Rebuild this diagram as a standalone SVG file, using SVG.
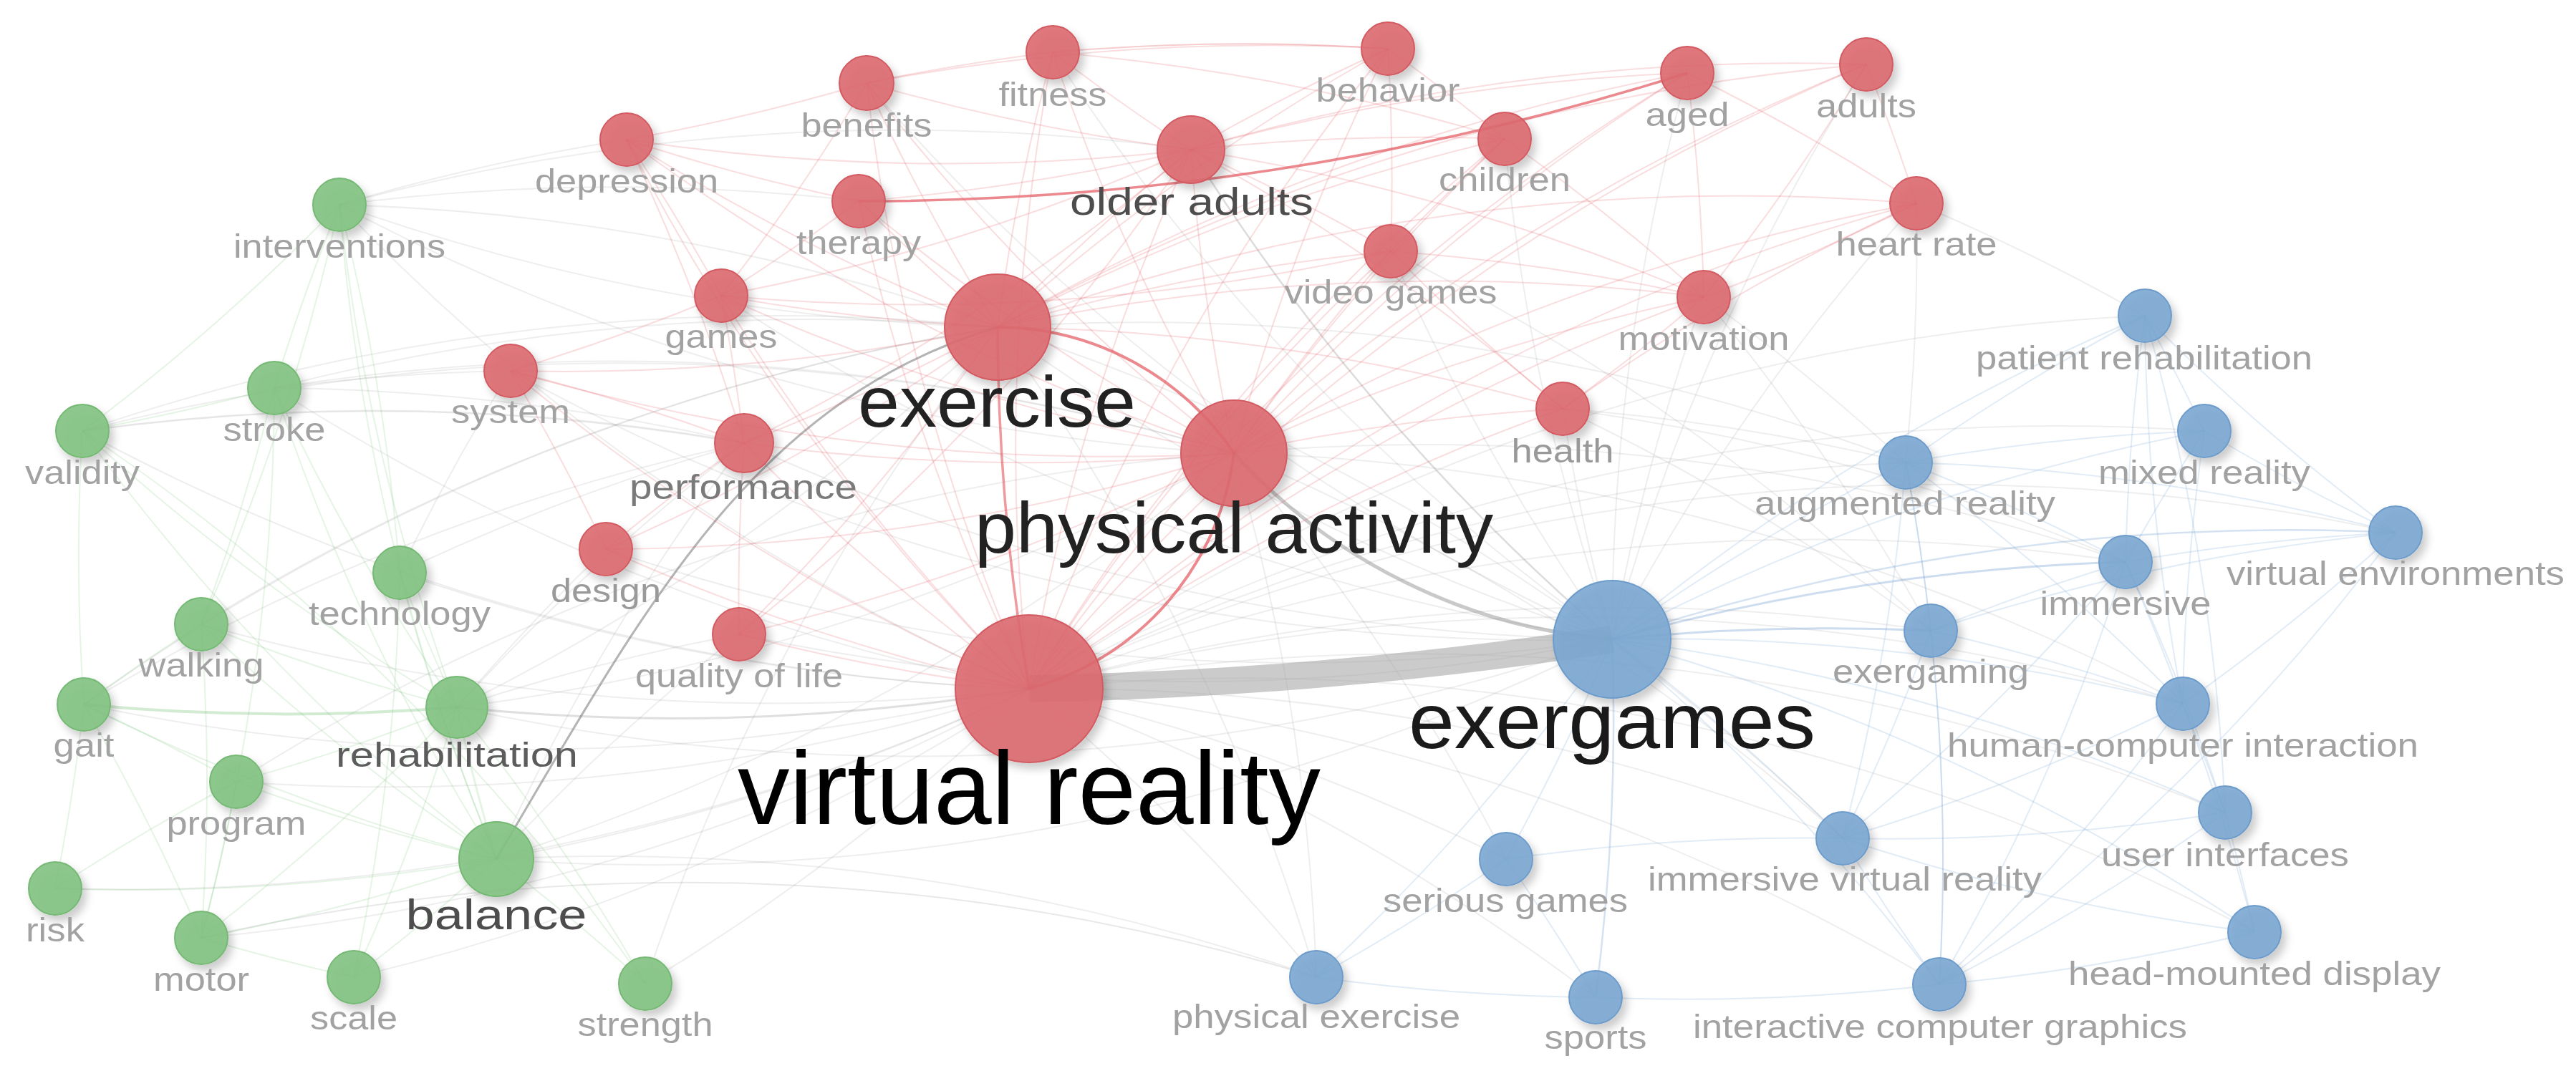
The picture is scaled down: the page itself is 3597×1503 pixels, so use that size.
<svg xmlns="http://www.w3.org/2000/svg" width="3597" height="1503" viewBox="0 0 3597 1503">
<defs>
<filter id="sh" x="-40%" y="-40%" width="190%" height="190%">
<feDropShadow dx="6" dy="8" stdDeviation="6" flood-color="#000" flood-opacity="0.22"/>
</filter>
<style>
.er{fill:none;stroke:#e2575e;stroke-opacity:.2;stroke-width:2}
.ex{fill:none;stroke:#8c8c8c;stroke-opacity:.15;stroke-width:2}
.eg{fill:none;stroke:#6dbb6d;stroke-opacity:.17;stroke-width:2}
.eb{fill:none;stroke:#6f9fd0;stroke-opacity:.2;stroke-width:2}
.band{fill:none;stroke:#a9a9a9;stroke-opacity:.6;stroke-width:38}
.cr{fill:#dc6a70;fill-opacity:.9;stroke:#d35a61;stroke-width:2;filter:url(#sh)}
.cg{fill:#82c282;fill-opacity:.9;stroke:#74b974;stroke-width:2;filter:url(#sh)}
.cb{fill:#7ca7d2;fill-opacity:.9;stroke:#6d9ccb;stroke-width:2;filter:url(#sh)}
text{font-family:"Liberation Sans",Arial,Helvetica,sans-serif;text-anchor:middle}
.l{font-size:46px;fill:#a2a2a2}
</style>
</defs>
<rect width="3597" height="1503" fill="#ffffff"/>
<g id="connectors">
<g id="edges-gray">
<path class="ex" d="M1437 962A3000 3000 0 0 1 638 988" style="stroke-width:3;stroke-opacity:.28"/>
<path class="ex" d="M1437 962A3000 3000 0 0 1 693 1200"/>
<path class="ex" d="M1437 962A3000 3000 0 0 1 117 984"/>
<path class="ex" d="M1437 962A3000 3000 0 0 1 383 542"/>
<path class="ex" d="M1437 962A3000 3000 0 0 1 115 602"/>
<path class="ex" d="M1437 962A3000 3000 0 0 1 474 286"/>
<path class="ex" d="M1437 962A3000 3000 0 0 1 558 800"/>
<path class="ex" d="M1437 962A3000 3000 0 0 1 281 872"/>
<path class="ex" d="M1437 962A3000 3000 0 0 1 330 1092"/>
<path class="ex" d="M1437 962A3000 3000 0 0 1 281 1310"/>
<path class="ex" d="M1437 962A3000 3000 0 0 1 901 1374"/>
<path class="ex" d="M1437 962A3000 3000 0 0 1 494 1365"/>
<path class="ex" d="M1437 962A3000 3000 0 0 1 77 1241"/>
<path class="ex" d="M1437 962A3000 3000 0 0 1 2661 646"/>
<path class="ex" d="M1437 962A3000 3000 0 0 1 2696 881"/>
<path class="ex" d="M1437 962A3000 3000 0 0 1 2103 1200"/>
<path class="ex" d="M1437 962A3000 3000 0 0 1 2573 1171"/>
<path class="ex" d="M1437 962A3000 3000 0 0 1 2228 1393"/>
<path class="ex" d="M1437 962A3000 3000 0 0 1 2708 1375"/>
<path class="ex" d="M1437 962A3000 3000 0 0 1 1838 1365"/>
<path class="ex" d="M1437 962A3000 3000 0 0 1 2995 441"/>
<path class="ex" d="M1437 962A3000 3000 0 0 1 3078 602"/>
<path class="ex" d="M1437 962A3000 3000 0 0 1 2968 785"/>
<path class="ex" d="M1437 962A3000 3000 0 0 1 3345 744"/>
<path class="ex" d="M1437 962A3000 3000 0 0 1 3048 983"/>
<path class="ex" d="M1437 962A3000 3000 0 0 1 3107 1135"/>
<path class="ex" d="M1437 962A3000 3000 0 0 1 3148 1302"/>
<path class="ex" d="M2251 893A3000 3000 0 0 1 1393 457"/>
<path class="ex" d="M2251 893A3000 3000 0 0 1 2182 571"/>
<path class="ex" d="M2251 893A3000 3000 0 0 1 2379 415"/>
<path class="ex" d="M2251 893A3000 3000 0 0 1 1942 351"/>
<path class="ex" d="M2251 893A3000 3000 0 0 1 2101 194"/>
<path class="ex" d="M2251 893A3000 3000 0 0 1 2676 284"/>
<path class="ex" d="M2251 893A3000 3000 0 0 1 1007 413"/>
<path class="ex" d="M2251 893A3000 3000 0 0 1 1039 619"/>
<path class="ex" d="M2251 893A3000 3000 0 0 1 693 1200"/>
<path class="ex" d="M2251 893A3000 3000 0 0 1 638 988"/>
<path class="ex" d="M2251 893A3000 3000 0 0 1 1032 886"/>
<path class="ex" d="M2251 893A3000 3000 0 0 1 846 767"/>
<path class="ex" d="M2251 893A3000 3000 0 0 1 713 518"/>
<path class="ex" d="M2251 893A3000 3000 0 0 1 2356 102"/>
<path class="ex" d="M2251 893A3000 3000 0 0 1 2606 90"/>
<path class="ex" d="M2251 893A3000 3000 0 0 1 1663 209" style="stroke-width:2.5;stroke-opacity:.3"/>
<path class="ex" d="M2251 893A3000 3000 0 0 1 1210 116"/>
<path class="ex" d="M2251 893A3000 3000 0 0 1 1470 73"/>
<path class="ex" d="M1723 633A3000 3000 0 0 1 693 1200"/>
<path class="ex" d="M1723 633A3000 3000 0 0 1 638 988"/>
<path class="ex" d="M1393 457A3000 3000 0 0 1 638 988"/>
<path class="ex" d="M1393 457A3000 3000 0 0 1 474 286"/>
<path class="ex" d="M1723 633A3000 3000 0 0 1 474 286"/>
<path class="ex" d="M474 286A3000 3000 0 0 1 875 195"/>
<path class="ex" d="M474 286A3000 3000 0 0 1 1663 209"/>
<path class="ex" d="M474 286A3000 3000 0 0 1 1199 281"/>
<path class="ex" d="M115 602A3000 3000 0 0 1 1039 619" style="stroke-width:2.5;stroke-opacity:.22"/>
<path class="ex" d="M383 542A3000 3000 0 0 1 713 518"/>
<path class="ex" d="M383 542A3000 3000 0 0 1 1039 619"/>
<path class="ex" d="M638 988A3000 3000 0 0 1 1039 619"/>
<path class="ex" d="M638 988A3000 3000 0 0 1 1032 886"/>
<path class="ex" d="M638 988A3000 3000 0 0 1 846 767"/>
<path class="ex" d="M693 1200A3000 3000 0 0 1 1039 619"/>
<path class="ex" d="M693 1200A3000 3000 0 0 1 1032 886"/>
<path class="ex" d="M558 800A3000 3000 0 0 1 713 518"/>
<path class="ex" d="M558 800A3000 3000 0 0 1 1039 619"/>
<path class="ex" d="M281 872A3000 3000 0 0 1 1393 457"/>
<path class="ex" d="M117 984A3000 3000 0 0 1 1039 619"/>
<path class="ex" d="M281 1310A3000 3000 0 0 1 1838 1365" style="stroke-opacity:.2"/>
<path class="ex" d="M693 1200A3000 3000 0 0 1 1838 1365"/>
<path class="ex" d="M1723 633A3000 3000 0 0 1 1838 1365"/>
<path class="ex" d="M1393 457A3000 3000 0 0 1 1838 1365"/>
<path class="ex" d="M2182 571A3000 3000 0 0 1 2661 646"/>
<path class="ex" d="M2182 571A3000 3000 0 0 1 2968 785"/>
<path class="ex" d="M2379 415A3000 3000 0 0 1 2661 646"/>
<path class="ex" d="M2676 284A3000 3000 0 0 1 2661 646"/>
<path class="ex" d="M2676 284A3000 3000 0 0 1 2995 441"/>
<path class="ex" d="M1942 351A3000 3000 0 0 1 2696 881"/>
<path class="ex" d="M1723 633A3000 3000 0 0 1 2573 1171"/>
<path class="ex" d="M1393 457A3000 3000 0 0 1 2573 1171"/>
<path class="ex" d="M1723 633A3000 3000 0 0 1 2103 1200"/>
<path class="ex" d="M2182 571A3000 3000 0 0 1 2696 881"/>
<path class="ex" d="M2379 415A3000 3000 0 0 1 2696 881"/>
<path class="ex" d="M474 286A3000 3000 0 0 1 1393 457"/>
<path class="ex" d="M383 542A3000 3000 0 0 1 1393 457"/>
<path class="ex" d="M115 602A3000 3000 0 0 1 1393 457"/>
<path class="ex" d="M117 984A3000 3000 0 0 1 1393 457"/>
<path class="ex" d="M115 602A3000 3000 0 0 1 1723 633"/>
<path class="ex" d="M383 542A3000 3000 0 0 1 1723 633"/>
<path class="ex" d="M1723 633A3000 3000 0 0 1 3048 983"/>
<path class="ex" d="M1723 633A3000 3000 0 0 1 2968 785"/>
<path class="ex" d="M1393 457A3000 3000 0 0 1 2661 646"/>
<path class="ex" d="M901 1374A3000 3000 0 0 1 1393 457"/>
<path class="ex" d="M330 1092A3000 3000 0 0 1 1723 633"/>
<path class="ex" d="M693 1200C900 850 1050 560 1393 457" style="stroke:#777;stroke-width:3;stroke-opacity:.55"/>
<path class="ex" d="M2251 893A800 800 0 0 1 1723 633" style="stroke:#888;stroke-width:5;stroke-opacity:.45"/>
<path class="band" d="M2251 893A6000 6000 0 0 1 1437 962"/>
</g>
<g id="edges-red">
<path class="er" d="M1437 962A3000 3000 0 0 1 1663 209"/>
<path class="er" d="M1437 962A3000 3000 0 0 1 1210 116"/>
<path class="er" d="M1437 962A3000 3000 0 0 1 1470 73"/>
<path class="er" d="M1437 962A3000 3000 0 0 1 1938 68"/>
<path class="er" d="M1437 962A3000 3000 0 0 1 1199 281"/>
<path class="er" d="M1437 962A3000 3000 0 0 1 1942 351"/>
<path class="er" d="M1437 962A3000 3000 0 0 1 2101 194"/>
<path class="er" d="M1437 962A3000 3000 0 0 1 2356 102"/>
<path class="er" d="M1437 962A3000 3000 0 0 1 2606 90"/>
<path class="er" d="M1437 962A3000 3000 0 0 1 2676 284"/>
<path class="er" d="M1437 962A3000 3000 0 0 1 2379 415"/>
<path class="er" d="M1437 962A3000 3000 0 0 1 2182 571"/>
<path class="er" d="M1437 962A3000 3000 0 0 1 1007 413"/>
<path class="er" d="M1437 962A3000 3000 0 0 1 713 518"/>
<path class="er" d="M1437 962A3000 3000 0 0 1 1039 619"/>
<path class="er" d="M1437 962A3000 3000 0 0 1 846 767"/>
<path class="er" d="M1437 962A3000 3000 0 0 1 1032 886"/>
<path class="er" d="M1437 962A3000 3000 0 0 1 875 195"/>
<path class="er" d="M1393 457A3000 3000 0 0 1 1663 209"/>
<path class="er" d="M1393 457A3000 3000 0 0 1 1210 116"/>
<path class="er" d="M1393 457A3000 3000 0 0 1 1470 73"/>
<path class="er" d="M1393 457A3000 3000 0 0 1 1938 68"/>
<path class="er" d="M1393 457A3000 3000 0 0 1 1199 281"/>
<path class="er" d="M1393 457A3000 3000 0 0 1 1942 351"/>
<path class="er" d="M1393 457A3000 3000 0 0 1 2101 194"/>
<path class="er" d="M1393 457A3000 3000 0 0 1 2356 102"/>
<path class="er" d="M1393 457A3000 3000 0 0 1 2606 90"/>
<path class="er" d="M1393 457A3000 3000 0 0 1 2676 284"/>
<path class="er" d="M1393 457A3000 3000 0 0 1 2379 415"/>
<path class="er" d="M1393 457A3000 3000 0 0 1 2182 571"/>
<path class="er" d="M1393 457A3000 3000 0 0 1 1007 413"/>
<path class="er" d="M1393 457A3000 3000 0 0 1 713 518"/>
<path class="er" d="M1393 457A3000 3000 0 0 1 1039 619"/>
<path class="er" d="M1393 457A3000 3000 0 0 1 846 767"/>
<path class="er" d="M1393 457A3000 3000 0 0 1 1032 886"/>
<path class="er" d="M1393 457A3000 3000 0 0 1 875 195"/>
<path class="er" d="M1723 633A3000 3000 0 0 1 1663 209"/>
<path class="er" d="M1723 633A3000 3000 0 0 1 1210 116"/>
<path class="er" d="M1723 633A3000 3000 0 0 1 1470 73"/>
<path class="er" d="M1723 633A3000 3000 0 0 1 1938 68"/>
<path class="er" d="M1723 633A3000 3000 0 0 1 1199 281"/>
<path class="er" d="M1723 633A3000 3000 0 0 1 1942 351"/>
<path class="er" d="M1723 633A3000 3000 0 0 1 2101 194"/>
<path class="er" d="M1723 633A3000 3000 0 0 1 2356 102"/>
<path class="er" d="M1723 633A3000 3000 0 0 1 2606 90"/>
<path class="er" d="M1723 633A3000 3000 0 0 1 2676 284"/>
<path class="er" d="M1723 633A3000 3000 0 0 1 2379 415"/>
<path class="er" d="M1723 633A3000 3000 0 0 1 2182 571"/>
<path class="er" d="M1723 633A3000 3000 0 0 1 1007 413"/>
<path class="er" d="M1723 633A3000 3000 0 0 1 713 518"/>
<path class="er" d="M1723 633A3000 3000 0 0 1 1039 619"/>
<path class="er" d="M1723 633A3000 3000 0 0 1 875 195"/>
<path class="er" d="M1723 633A3000 3000 0 0 1 1032 886"/>
<path class="er" d="M1723 633A3000 3000 0 0 1 846 767"/>
<path class="er" d="M1663 209A3000 3000 0 0 1 1210 116"/>
<path class="er" d="M1663 209A3000 3000 0 0 1 1470 73"/>
<path class="er" d="M1663 209A3000 3000 0 0 1 1199 281"/>
<path class="er" d="M1663 209A3000 3000 0 0 1 2101 194"/>
<path class="er" d="M1663 209A3000 3000 0 0 1 1942 351"/>
<path class="er" d="M1663 209A3000 3000 0 0 1 2356 102"/>
<path class="er" d="M1663 209A3000 3000 0 0 1 875 195"/>
<path class="er" d="M1663 209A3000 3000 0 0 1 1007 413"/>
<path class="er" d="M1663 209A3000 3000 0 0 1 1039 619"/>
<path class="er" d="M1663 209A3000 3000 0 0 1 1032 886"/>
<path class="er" d="M1663 209A3000 3000 0 0 1 2182 571"/>
<path class="er" d="M1663 209A3000 3000 0 0 1 2379 415"/>
<path class="er" d="M1663 209A3000 3000 0 0 1 1938 68"/>
<path class="er" d="M1663 209A3000 3000 0 0 1 2606 90"/>
<path class="er" d="M1210 116A3000 3000 0 0 1 1470 73"/>
<path class="er" d="M1210 116A3000 3000 0 0 1 1938 68"/>
<path class="er" d="M1210 116A3000 3000 0 0 1 875 195"/>
<path class="er" d="M1470 73A3000 3000 0 0 1 1938 68" style="stroke-opacity:.3"/>
<path class="er" d="M1470 73A3000 3000 0 0 1 2101 194"/>
<path class="er" d="M1199 281A3000 3000 0 0 1 875 195"/>
<path class="er" d="M1007 413A3000 3000 0 0 1 713 518"/>
<path class="er" d="M1007 413A3000 3000 0 0 1 1039 619"/>
<path class="er" d="M713 518A3000 3000 0 0 1 1039 619"/>
<path class="er" d="M713 518A3000 3000 0 0 1 846 767"/>
<path class="er" d="M846 767A3000 3000 0 0 1 1039 619"/>
<path class="er" d="M1032 886A3000 3000 0 0 1 1039 619"/>
<path class="er" d="M875 195A3000 3000 0 0 1 1007 413"/>
<path class="er" d="M875 195A3000 3000 0 0 1 1039 619"/>
<path class="er" d="M1942 351A3000 3000 0 0 1 2101 194"/>
<path class="er" d="M1942 351A3000 3000 0 0 1 2379 415"/>
<path class="er" d="M1942 351A3000 3000 0 0 1 1007 413"/>
<path class="er" d="M2101 194A3000 3000 0 0 1 2379 415"/>
<path class="er" d="M2356 102A3000 3000 0 0 1 2676 284"/>
<path class="er" d="M2606 90A3000 3000 0 0 1 2676 284"/>
<path class="er" d="M2676 284A3000 3000 0 0 1 2379 415"/>
<path class="er" d="M2379 415A3000 3000 0 0 1 2182 571"/>
<path class="er" d="M2182 571A3000 3000 0 0 1 1942 351"/>
<path class="er" d="M1938 68A3000 3000 0 0 1 2101 194"/>
<path class="er" d="M1938 68A3000 3000 0 0 1 1942 351"/>
<path class="er" d="M2606 90A3000 3000 0 0 1 2379 415"/>
<path class="er" d="M2356 102A3000 3000 0 0 1 2379 415"/>
<path class="er" d="M2182 571A3000 3000 0 0 1 2676 284"/>
<path class="er" d="M1199 281A3000 3000 0 0 1 1007 413"/>
<path class="er" d="M1210 116A3000 3000 0 0 1 1007 413"/>
<path class="er" d="M1437 962A3000 3000 0 0 1 1393 457" style="stroke-width:3.5;stroke-opacity:.6"/>
<path class="er" d="M1393 457A400 400 0 0 1 1723 633" style="stroke-width:4;stroke-opacity:.7"/>
<path class="er" d="M1723 633A390 390 0 0 1 1437 962" style="stroke-width:4;stroke-opacity:.7"/>
<path class="er" d="M2356 102A3800 3800 0 0 1 1199 281" style="stroke-width:3.5;stroke-opacity:.7"/>
</g>
<g id="edges-green">
<path class="eg" d="M693 1200A3000 3000 0 0 1 638 988" style="stroke-width:3"/>
<path class="eg" d="M693 1200A3000 3000 0 0 1 117 984"/>
<path class="eg" d="M693 1200A3000 3000 0 0 1 281 872"/>
<path class="eg" d="M693 1200A3000 3000 0 0 1 330 1092"/>
<path class="eg" d="M693 1200A3000 3000 0 0 1 77 1241"/>
<path class="eg" d="M693 1200A3000 3000 0 0 1 281 1310"/>
<path class="eg" d="M693 1200A3000 3000 0 0 1 494 1365"/>
<path class="eg" d="M693 1200A3000 3000 0 0 1 901 1374"/>
<path class="eg" d="M693 1200A3000 3000 0 0 1 383 542"/>
<path class="eg" d="M693 1200A3000 3000 0 0 1 558 800"/>
<path class="eg" d="M693 1200A3000 3000 0 0 1 115 602"/>
<path class="eg" d="M693 1200A3000 3000 0 0 1 474 286"/>
<path class="eg" d="M638 988A3000 3000 0 0 1 117 984" style="stroke-width:4;stroke-opacity:.3"/>
<path class="eg" d="M638 988A3000 3000 0 0 1 383 542"/>
<path class="eg" d="M638 988A3000 3000 0 0 1 281 872"/>
<path class="eg" d="M638 988A3000 3000 0 0 1 558 800"/>
<path class="eg" d="M638 988A3000 3000 0 0 1 474 286"/>
<path class="eg" d="M638 988A3000 3000 0 0 1 330 1092"/>
<path class="eg" d="M638 988A3000 3000 0 0 1 281 1310"/>
<path class="eg" d="M638 988A3000 3000 0 0 1 494 1365"/>
<path class="eg" d="M638 988A3000 3000 0 0 1 901 1374"/>
<path class="eg" d="M638 988A3000 3000 0 0 1 115 602"/>
<path class="eg" d="M117 984A3000 3000 0 0 1 281 872"/>
<path class="eg" d="M117 984A3000 3000 0 0 1 115 602"/>
<path class="eg" d="M117 984A3000 3000 0 0 1 330 1092"/>
<path class="eg" d="M117 984A3000 3000 0 0 1 281 1310"/>
<path class="eg" d="M117 984A3000 3000 0 0 1 77 1241"/>
<path class="eg" d="M383 542A3000 3000 0 0 1 281 872"/>
<path class="eg" d="M383 542A3000 3000 0 0 1 474 286"/>
<path class="eg" d="M383 542A3000 3000 0 0 1 115 602"/>
<path class="eg" d="M383 542A3000 3000 0 0 1 281 1310"/>
<path class="eg" d="M474 286A3000 3000 0 0 1 558 800"/>
<path class="eg" d="M474 286A3000 3000 0 0 1 281 872"/>
<path class="eg" d="M558 800A3000 3000 0 0 1 494 1365"/>
<path class="eg" d="M330 1092A3000 3000 0 0 1 281 1310"/>
<path class="eg" d="M281 872A3000 3000 0 0 1 281 1310"/>
<path class="eg" d="M115 602A3000 3000 0 0 1 901 1374"/>
<path class="eg" d="M494 1365A3000 3000 0 0 1 281 1310"/>
<path class="eg" d="M77 1241A3000 3000 0 0 1 330 1092"/>
<path class="eg" d="M474 286A3000 3000 0 0 1 115 602"/>
</g>
<g id="edges-blue">
<path class="eb" d="M2251 893A3000 3000 0 0 1 2661 646"/>
<path class="eb" d="M2251 893A3000 3000 0 0 1 2696 881" style="stroke-width:3;stroke-opacity:.35"/>
<path class="eb" d="M2251 893A3000 3000 0 0 1 2103 1200"/>
<path class="eb" d="M2251 893A3000 3000 0 0 1 2573 1171"/>
<path class="eb" d="M2251 893A3000 3000 0 0 1 2228 1393" style="stroke-width:2.5;stroke-opacity:.3"/>
<path class="eb" d="M2251 893A3000 3000 0 0 1 2708 1375"/>
<path class="eb" d="M2251 893A3000 3000 0 0 1 1838 1365"/>
<path class="eb" d="M2251 893A3000 3000 0 0 1 2995 441"/>
<path class="eb" d="M2251 893A3000 3000 0 0 1 3078 602"/>
<path class="eb" d="M2251 893A3000 3000 0 0 1 2968 785" style="stroke-width:3;stroke-opacity:.35"/>
<path class="eb" d="M2251 893A3000 3000 0 0 1 3345 744" style="stroke-width:2.5;stroke-opacity:.3"/>
<path class="eb" d="M2251 893A3000 3000 0 0 1 3048 983"/>
<path class="eb" d="M2251 893A3000 3000 0 0 1 3107 1135"/>
<path class="eb" d="M2251 893A3000 3000 0 0 1 3148 1302"/>
<path class="eb" d="M2661 646A3000 3000 0 0 1 3078 602"/>
<path class="eb" d="M2661 646A3000 3000 0 0 1 2968 785"/>
<path class="eb" d="M2661 646A3000 3000 0 0 1 2995 441"/>
<path class="eb" d="M2661 646A3000 3000 0 0 1 3345 744"/>
<path class="eb" d="M2661 646A3000 3000 0 0 1 3048 983"/>
<path class="eb" d="M2661 646A3000 3000 0 0 1 2696 881"/>
<path class="eb" d="M2661 646A3000 3000 0 0 1 2708 1375"/>
<path class="eb" d="M2661 646A3000 3000 0 0 1 2573 1171"/>
<path class="eb" d="M2696 881A3000 3000 0 0 1 2968 785"/>
<path class="eb" d="M2696 881A3000 3000 0 0 1 3345 744"/>
<path class="eb" d="M2696 881A3000 3000 0 0 1 3048 983"/>
<path class="eb" d="M2696 881A3000 3000 0 0 1 2573 1171"/>
<path class="eb" d="M2696 881A3000 3000 0 0 1 2708 1375"/>
<path class="eb" d="M2968 785A3000 3000 0 0 1 3345 744"/>
<path class="eb" d="M2968 785A3000 3000 0 0 1 3048 983"/>
<path class="eb" d="M2968 785A3000 3000 0 0 1 2995 441"/>
<path class="eb" d="M2968 785A3000 3000 0 0 1 3078 602"/>
<path class="eb" d="M2968 785A3000 3000 0 0 1 3107 1135"/>
<path class="eb" d="M2968 785A3000 3000 0 0 1 2708 1375"/>
<path class="eb" d="M2968 785A3000 3000 0 0 1 2573 1171"/>
<path class="eb" d="M3345 744A3000 3000 0 0 1 3048 983"/>
<path class="eb" d="M3345 744A3000 3000 0 0 1 2995 441"/>
<path class="eb" d="M3345 744A3000 3000 0 0 1 3078 602"/>
<path class="eb" d="M3345 744A3000 3000 0 0 1 2708 1375"/>
<path class="eb" d="M3048 983A3000 3000 0 0 1 3107 1135"/>
<path class="eb" d="M3048 983A3000 3000 0 0 1 2708 1375"/>
<path class="eb" d="M3048 983A3000 3000 0 0 1 2995 441"/>
<path class="eb" d="M3048 983A3000 3000 0 0 1 3078 602"/>
<path class="eb" d="M3048 983A3000 3000 0 0 1 3148 1302"/>
<path class="eb" d="M3048 983A3000 3000 0 0 1 2573 1171"/>
<path class="eb" d="M3107 1135A3000 3000 0 0 1 3148 1302"/>
<path class="eb" d="M3107 1135A3000 3000 0 0 1 2708 1375"/>
<path class="eb" d="M3107 1135A3000 3000 0 0 1 2573 1171"/>
<path class="eb" d="M3148 1302A3000 3000 0 0 1 2573 1171"/>
<path class="eb" d="M3148 1302A3000 3000 0 0 1 2708 1375"/>
<path class="eb" d="M2708 1375A3000 3000 0 0 1 2573 1171"/>
<path class="eb" d="M2708 1375A3000 3000 0 0 1 2228 1393"/>
<path class="eb" d="M2103 1200A3000 3000 0 0 1 2228 1393"/>
<path class="eb" d="M2103 1200A3000 3000 0 0 1 2573 1171"/>
<path class="eb" d="M2103 1200A3000 3000 0 0 1 1838 1365"/>
<path class="eb" d="M2228 1393A3000 3000 0 0 1 1838 1365"/>
<path class="eb" d="M2995 441A3000 3000 0 0 1 3078 602"/>
<path class="eb" d="M2995 441A3000 3000 0 0 1 3107 1135"/>
</g>
</g>
<g id="nodes">
<g id="n-depression"><circle class="cr" cx="875" cy="195" r="37"/><text class="l" x="875" y="269" textLength="256" lengthAdjust="spacingAndGlyphs">depression</text></g>
<g id="n-benefits"><circle class="cr" cx="1210" cy="116" r="38"/><text class="l" x="1210" y="191" textLength="183" lengthAdjust="spacingAndGlyphs">benefits</text></g>
<g id="n-fitness"><circle class="cr" cx="1470" cy="73" r="37"/><text class="l" x="1470" y="148" textLength="151" lengthAdjust="spacingAndGlyphs">fitness</text></g>
<g id="n-behavior"><circle class="cr" cx="1938" cy="68" r="37"/><text class="l" x="1938" y="142" textLength="201" lengthAdjust="spacingAndGlyphs">behavior</text></g>
<g id="n-therapy"><circle class="cr" cx="1199" cy="281" r="37"/><text class="l" x="1199" y="355" textLength="174" lengthAdjust="spacingAndGlyphs">therapy</text></g>
<g id="n-video-games"><circle class="cr" cx="1942" cy="351" r="37"/><text class="l" x="1942" y="424" textLength="297" lengthAdjust="spacingAndGlyphs">video games</text></g>
<g id="n-children"><circle class="cr" cx="2101" cy="194" r="37"/><text class="l" x="2101" y="267" textLength="184" lengthAdjust="spacingAndGlyphs">children</text></g>
<g id="n-aged"><circle class="cr" cx="2356" cy="102" r="37"/><text class="l" x="2356" y="176" textLength="117" lengthAdjust="spacingAndGlyphs">aged</text></g>
<g id="n-adults"><circle class="cr" cx="2606" cy="90" r="37"/><text class="l" x="2606" y="164" textLength="140" lengthAdjust="spacingAndGlyphs">adults</text></g>
<g id="n-heart-rate"><circle class="cr" cx="2676" cy="284" r="37"/><text class="l" x="2676" y="357" textLength="225" lengthAdjust="spacingAndGlyphs">heart rate</text></g>
<g id="n-motivation"><circle class="cr" cx="2379" cy="415" r="37"/><text class="l" x="2379" y="489" textLength="239" lengthAdjust="spacingAndGlyphs">motivation</text></g>
<g id="n-health"><circle class="cr" cx="2182" cy="571" r="37"/><text class="l" x="2182" y="646" textLength="143" lengthAdjust="spacingAndGlyphs" style="fill:#999">health</text></g>
<g id="n-games"><circle class="cr" cx="1007" cy="413" r="37"/><text class="l" x="1007" y="486" textLength="157" lengthAdjust="spacingAndGlyphs">games</text></g>
<g id="n-system"><circle class="cr" cx="713" cy="518" r="37"/><text class="l" x="713" y="591" textLength="166" lengthAdjust="spacingAndGlyphs">system</text></g>
<g id="n-design"><circle class="cr" cx="846" cy="767" r="37"/><text class="l" x="846" y="841" textLength="154" lengthAdjust="spacingAndGlyphs" style="fill:#9a9a9a">design</text></g>
<g id="n-quality-of-life"><circle class="cr" cx="1032" cy="886" r="37"/><text class="l" x="1032" y="960" textLength="290" lengthAdjust="spacingAndGlyphs">quality of life</text></g>
<g id="n-performance"><circle class="cr" cx="1039" cy="619" r="41"/><text x="1038" y="697" textLength="318" lengthAdjust="spacingAndGlyphs" style="font-size:48px;fill:#7a7a7a">performance</text></g>
<g id="n-older-adults"><circle class="cr" cx="1663" cy="209" r="47"/><text x="1664" y="300" textLength="340" lengthAdjust="spacingAndGlyphs" style="font-size:53px;fill:#4d4d4d">older adults</text></g>
<g id="n-exercise"><circle class="cr" cx="1393" cy="457" r="74"/><text x="1392" y="596" textLength="388" lengthAdjust="spacingAndGlyphs" style="font-size:100px;fill:#222">exercise</text></g>
<g id="n-physical-activity"><circle class="cr" cx="1723" cy="633" r="74"/><text x="1723" y="772" textLength="724" lengthAdjust="spacingAndGlyphs" style="font-size:100px;fill:#222">physical activity</text></g>
<g id="n-virtual-reality"><circle class="cr" cx="1437" cy="962" r="103"/><text x="1437" y="1151" textLength="814" lengthAdjust="spacingAndGlyphs" style="font-size:145px;fill:#000">virtual reality</text></g>
<g id="n-interventions"><circle class="cg" cx="474" cy="286" r="37"/><text class="l" x="474" y="360" textLength="296" lengthAdjust="spacingAndGlyphs">interventions</text></g>
<g id="n-validity"><circle class="cg" cx="115" cy="602" r="37"/><text class="l" x="115" y="676" textLength="160" lengthAdjust="spacingAndGlyphs">validity</text></g>
<g id="n-stroke"><circle class="cg" cx="383" cy="542" r="37"/><text class="l" x="383" y="616" textLength="143" lengthAdjust="spacingAndGlyphs">stroke</text></g>
<g id="n-technology"><circle class="cg" cx="558" cy="800" r="37"/><text class="l" x="558" y="873" textLength="254" lengthAdjust="spacingAndGlyphs">technology</text></g>
<g id="n-walking"><circle class="cg" cx="281" cy="872" r="37"/><text class="l" x="281" y="945" textLength="175" lengthAdjust="spacingAndGlyphs">walking</text></g>
<g id="n-gait"><circle class="cg" cx="117" cy="984" r="37"/><text class="l" x="117" y="1057" textLength="85" lengthAdjust="spacingAndGlyphs">gait</text></g>
<g id="n-program"><circle class="cg" cx="330" cy="1092" r="37"/><text class="l" x="330" y="1166" textLength="195" lengthAdjust="spacingAndGlyphs">program</text></g>
<g id="n-risk"><circle class="cg" cx="77" cy="1241" r="37"/><text class="l" x="77" y="1315" textLength="82" lengthAdjust="spacingAndGlyphs">risk</text></g>
<g id="n-motor"><circle class="cg" cx="281" cy="1310" r="37"/><text class="l" x="281" y="1384" textLength="134" lengthAdjust="spacingAndGlyphs">motor</text></g>
<g id="n-scale"><circle class="cg" cx="494" cy="1365" r="37"/><text class="l" x="494" y="1438" textLength="122" lengthAdjust="spacingAndGlyphs">scale</text></g>
<g id="n-strength"><circle class="cg" cx="901" cy="1374" r="37"/><text class="l" x="901" y="1447" textLength="189" lengthAdjust="spacingAndGlyphs">strength</text></g>
<g id="n-rehabilitation"><circle class="cg" cx="638" cy="988" r="43"/><text x="638" y="1071" textLength="338" lengthAdjust="spacingAndGlyphs" style="font-size:48px;fill:#5c5c5c">rehabilitation</text></g>
<g id="n-balance"><circle class="cg" cx="693" cy="1200" r="52"/><text x="693" y="1298" textLength="253" lengthAdjust="spacingAndGlyphs" style="font-size:60px;fill:#4d4d4d">balance</text></g>
<g id="n-augmented-reality"><circle class="cb" cx="2661" cy="646" r="37"/><text class="l" x="2660" y="719" textLength="420" lengthAdjust="spacingAndGlyphs">augmented reality</text></g>
<g id="n-exergaming"><circle class="cb" cx="2696" cy="881" r="37"/><text class="l" x="2696" y="954" textLength="274" lengthAdjust="spacingAndGlyphs">exergaming</text></g>
<g id="n-serious-games"><circle class="cb" cx="2103" cy="1200" r="37"/><text class="l" x="2102" y="1274" textLength="342" lengthAdjust="spacingAndGlyphs">serious games</text></g>
<g id="n-immersive-virtual-reality"><circle class="cb" cx="2573" cy="1171" r="37"/><text class="l" x="2576" y="1244" textLength="550" lengthAdjust="spacingAndGlyphs">immersive virtual reality</text></g>
<g id="n-sports"><circle class="cb" cx="2228" cy="1393" r="37"/><text class="l" x="2228" y="1465" textLength="143" lengthAdjust="spacingAndGlyphs">sports</text></g>
<g id="n-interactive-computer-graphics"><circle class="cb" cx="2708" cy="1375" r="37"/><text class="l" x="2709" y="1450" textLength="690" lengthAdjust="spacingAndGlyphs">interactive computer graphics</text></g>
<g id="n-physical-exercise"><circle class="cb" cx="1838" cy="1365" r="37"/><text class="l" x="1838" y="1436" textLength="402" lengthAdjust="spacingAndGlyphs">physical exercise</text></g>
<g id="n-patient-rehabilitation"><circle class="cb" cx="2995" cy="441" r="37"/><text class="l" x="2994" y="516" textLength="470" lengthAdjust="spacingAndGlyphs">patient rehabilitation</text></g>
<g id="n-mixed-reality"><circle class="cb" cx="3078" cy="602" r="37"/><text class="l" x="3078" y="676" textLength="296" lengthAdjust="spacingAndGlyphs">mixed reality</text></g>
<g id="n-immersive"><circle class="cb" cx="2968" cy="785" r="37"/><text class="l" x="2968" y="859" textLength="239" lengthAdjust="spacingAndGlyphs">immersive</text></g>
<g id="n-virtual-environments"><circle class="cb" cx="3345" cy="744" r="37"/><text class="l" x="3345" y="817" textLength="472" lengthAdjust="spacingAndGlyphs">virtual environments</text></g>
<g id="n-human-computer-interaction"><circle class="cb" cx="3048" cy="983" r="37"/><text class="l" x="3048" y="1057" textLength="658" lengthAdjust="spacingAndGlyphs">human-computer interaction</text></g>
<g id="n-user-interfaces"><circle class="cb" cx="3107" cy="1135" r="37"/><text class="l" x="3107" y="1210" textLength="346" lengthAdjust="spacingAndGlyphs">user interfaces</text></g>
<g id="n-head-mounted-display"><circle class="cb" cx="3148" cy="1302" r="37"/><text class="l" x="3148" y="1376" textLength="520" lengthAdjust="spacingAndGlyphs">head-mounted display</text></g>
<g id="n-exergames"><circle class="cb" cx="2251" cy="893" r="82"/><text x="2251" y="1045" textLength="568" lengthAdjust="spacingAndGlyphs" style="font-size:110px;fill:#1a1a1a">exergames</text></g>
</g>
</svg>
